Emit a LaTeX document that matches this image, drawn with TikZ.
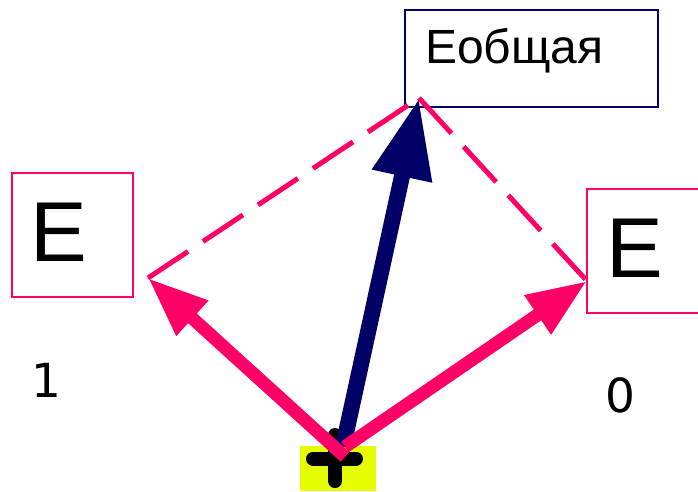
\documentclass[tikz,border=0pt]{standalone}
\usepackage{fontspec}
\setmainfont{Liberation Sans}
\newfontfamily\digitfont{DejaVu Sans}
\usepackage{tikz}
\usetikzlibrary{
  positioning,
  arrows.meta
}
\definecolor{VecPink}{RGB}{255,0,102}
\definecolor{VecNavy}{RGB}{0,0,102}
\definecolor{SrcYellow}{RGB}{229,255,0}

\begin{document}
\begin{tikzpicture}[x=1pt,y=-1pt,
  ebox/.style={draw=VecPink,line width=1.5pt,minimum width=121pt,
    minimum height=124pt,inner sep=0pt},
  bigletter/.style={inner sep=0pt,font=\fontsize{85}{85}\selectfont},
  digit/.style={inner sep=0pt,font=\digitfont\fontsize{47}{47}\selectfont},
  pinkvec/.style={VecPink,line width=13pt,-{Triangle[length=60pt,width=44pt]}},
  navyvec/.style={VecNavy,line width=16pt,-{Triangle[length=80pt,width=57pt]}},
  sumline/.style={VecPink,line width=5pt,dash pattern=on 48pt off 18pt}]
  \useasboundingbox (0,0) rectangle (698,491);
  \clip (0,0) rectangle (698,491);

  % ---------- boxes ----------
  \node[draw=VecNavy,line width=1.5pt,minimum width=253pt,minimum height=97pt,
    inner sep=0pt] (esum) at (531.5,58.5) {};
  \node[anchor=base west,inner sep=0pt,font=\fontsize{48}{48}\selectfont]
    (esumtxt) at (425,63) {Еобщая};
  \node[ebox] (e1) at (72.5,235) {};
  \node[bigletter] (e1txt) at (59,232) {E};
  \node[ebox] (e0) at (647.5,251) {};
  \node[bigletter] (e0txt) at (635,248) {E};

  \node[digit] (n1) at (46,380) {1};
  \node[digit] (n0) at (620,395) {0};

  % source with plus sign
  \node[fill=SrcYellow,minimum width=76pt,minimum height=45pt,inner sep=0pt]
    (src) at (338,468.5) {};
  \draw[line width=14pt,line cap=round] (335,435) -- (335,481);
  \draw[line width=14pt,line cap=round] (313,458.5) -- (356,458.5);

  % vector ends
  \coordinate (p1) at (148,278);
  \coordinate (p0) at (587,281);
  \coordinate (ps) at (419,98);

  % parallelogram sides
  \draw[sumline] (p1) -- (ps);
  \draw[sumline] (ps) -- (p0);

  % vectors
  \draw[navyvec] ([shift={(5,1)}]src.north) -- (ps);
  \draw[pinkvec] ([shift={(7,1)}]src.north) -- (p0);
  \draw[pinkvec] ([shift={(7,11)}]src.north) -- (p1);
\end{tikzpicture}
\end{document}
